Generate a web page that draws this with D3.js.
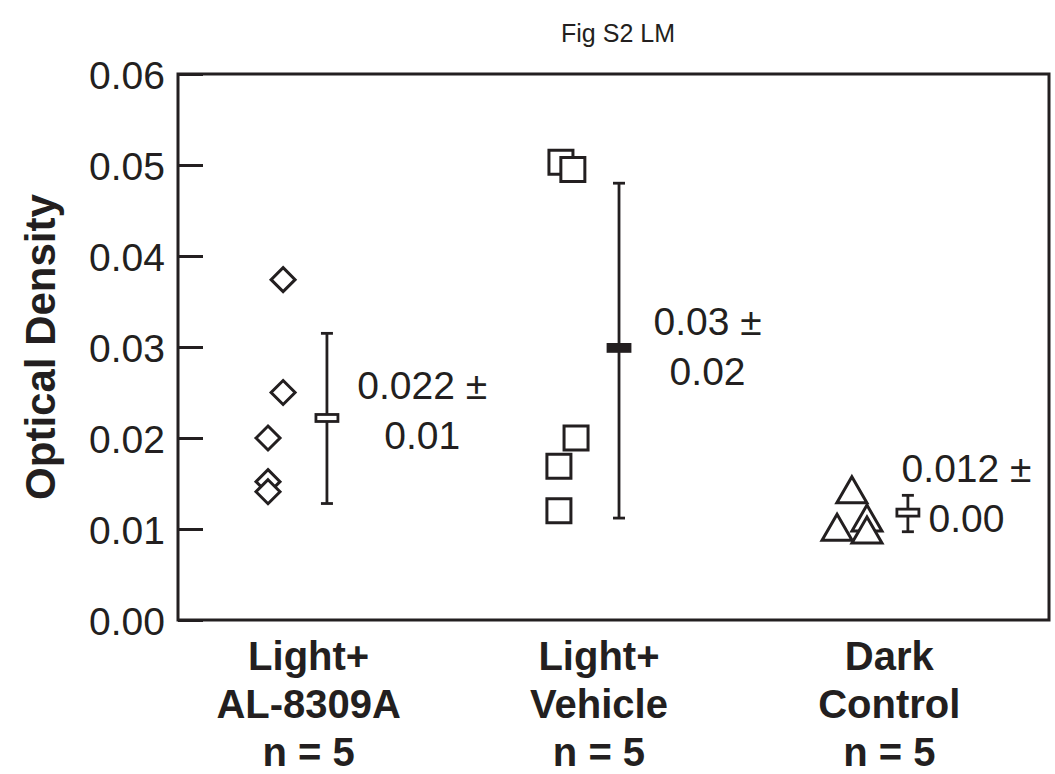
<!DOCTYPE html>
<html>
<head>
<meta charset="utf-8">
<script src="https://cdn.jsdelivr.net/npm/d3@7"></script>
<style>
  html, body { margin: 0; padding: 0; background: #ffffff; }
  svg { display: block; }
  text { font-family: "Liberation Sans", Arial, Helvetica, sans-serif; fill: #231f20; }
</style>
</head>
<body>
<svg id="chart" width="1055" height="774"></svg>
<script>
// ---------------- data ----------------
const title = "Fig S2 LM";
const yAxisTitle = "Optical Density";
const categoryLines = [
  ["Light+", "AL-8309A", "n = 5"],
  ["Light+", "Vehicle", "n = 5"],
  ["Dark", "Control", "n = 5"]
];
const yTickValues = [0.00, 0.01, 0.02, 0.03, 0.04, 0.05, 0.06];

// individual measurements (optical density)
const alValues      = [0.0374, 0.0250, 0.0200, 0.0152, 0.0141];
const vehicleValues = [0.0503, 0.0495, 0.0200, 0.0169, 0.0120];
const darkValues    = [0.0143, 0.0102, 0.0112, 0.0099];

// horizontal jitter of each point inside its category (category units)
const alJitter      = [0.362, 0.362, 0.310, 0.310, 0.310];
const vehicleJitter = [0.319, 0.360, 0.371, 0.312, 0.312];
const darkJitter    = [0.321, 0.270, 0.373, 0.373];

// summary statistics
const means   = [0.0222, 0.0299, 0.0118];
const errLow  = [0.0128, 0.0112, 0.0097];
const errHigh = [0.0315, 0.0480, 0.0137];
const meanLabels = [["0.022 \u00b1", "0.01"], ["0.03 \u00b1", "0.02"], ["0.012 \u00b1", "0.00"]];

// ---------------- layout ----------------
const svg = d3.select("#chart");
const mLeft = 178, mRight = 1049, mTop = 74, mBottom = 620;
const ink = "#231f20";

const x = d3.scaleLinear().domain([0, 3]).range([mLeft, mRight]);
const y = d3.scaleLinear().domain([0, 0.06]).range([mBottom, mTop]);

// title
svg.append("text")
  .attr("x", 618).attr("y", 42)
  .attr("text-anchor", "middle")
  .style("font-size", "25px")
  .text(title);

// y axis
const yAxis = d3.axisLeft(y)
  .tickValues(yTickValues)
  .tickFormat(d3.format(".2f"))
  .tickSizeInner(-25)
  .tickSizeOuter(0)
  .tickPadding(13);

const gy = svg.append("g").attr("transform", `translate(${mLeft},0)`).call(yAxis);
gy.select(".domain").remove();
gy.selectAll(".tick line").attr("stroke", ink).attr("stroke-width", 3);
gy.selectAll(".tick text")
  .attr("fill", ink)
  .style("font-size", "39px")
  .style("font-family", "'Liberation Sans', Arial, sans-serif")
  .attr("dy", "0.36em");

// frame
svg.append("rect")
  .attr("x", mLeft).attr("y", mTop)
  .attr("width", mRight - mLeft).attr("height", mBottom - mTop)
  .attr("fill", "none").attr("stroke", ink).attr("stroke-width", 3);

// y title
svg.append("text")
  .attr("transform", `translate(40,${(mTop + mBottom) / 2}) rotate(-90)`)
  .attr("text-anchor", "middle")
  .attr("dy", "0.36em")
  .style("font-size", "42px")
  .style("font-weight", "bold")
  .text(yAxisTitle);

// category labels
const catG = svg.append("g");
categoryLines.forEach((lines, i) => {
  const t = catG.append("text")
    .attr("text-anchor", "middle")
    .style("font-size", "40px")
    .style("font-weight", "bold");
  lines.forEach((ln, j) => {
    t.append("tspan")
      .attr("x", x(i + 0.45))
      .attr("y", 670 + j * 48)
      .text(ln);
  });
});

// markers
const groups = [
  { values: alValues, jitter: alJitter, shape: "diamond" },
  { values: vehicleValues, jitter: vehicleJitter, shape: "square" },
  { values: darkValues, jitter: darkJitter, shape: "triangle" }
];
const shapePath = {
  diamond: "M0,-12L12,0L0,12L-12,0Z",
  square: "M-12,-12L12,-12L12,12L-12,12Z",
  triangle: "M0,-13L15,13L-15,13Z"
};

groups.forEach((g, i) => {
  svg.append("g")
    .selectAll("path")
    .data(g.values)
    .join("path")
    .attr("d", shapePath[g.shape])
    .attr("transform", (d, k) => `translate(${x(i + g.jitter[k])},${y(d)})`)
    .attr("fill", "#ffffff")
    .attr("stroke", ink)
    .attr("stroke-width", 3);
});

// error bars and means
const barOffset = [0.513, 0.519, 0.514];
means.forEach((m, i) => {
  const cx = x(i + barOffset[i]);
  const g = svg.append("g");
  g.append("line")
    .attr("x1", cx).attr("x2", cx)
    .attr("y1", y(errHigh[i])).attr("y2", y(errLow[i]))
    .attr("stroke", ink).attr("stroke-width", 2.8);
  [errHigh[i], errLow[i]].forEach(v => {
    g.append("line")
      .attr("x1", cx - 6).attr("x2", cx + 6)
      .attr("y1", y(v)).attr("y2", y(v))
      .attr("stroke", ink).attr("stroke-width", 2.8);
  });
  g.append("rect")
    .attr("x", cx - 11).attr("y", y(m) - 3.5)
    .attr("width", 22).attr("height", 7)
    .attr("fill", i === 1 ? ink : "#ffffff")
    .attr("stroke", ink).attr("stroke-width", 2.8);
});

// mean ± labels
const labelPos = [
  { dx: 0.841, line1: 399 },
  { dx: 1.824, line1: 335 },
  { dx: 2.716, line1: 482 }
];
meanLabels.forEach((lines, i) => {
  const t = svg.append("text")
    .attr("text-anchor", "middle")
    .style("font-size", "39px");
  lines.forEach((ln, j) => {
    t.append("tspan")
      .attr("x", x(labelPos[i].dx))
      .attr("y", labelPos[i].line1 + j * 50)
      .text(ln);
  });
});
</script>
</body>
</html>
